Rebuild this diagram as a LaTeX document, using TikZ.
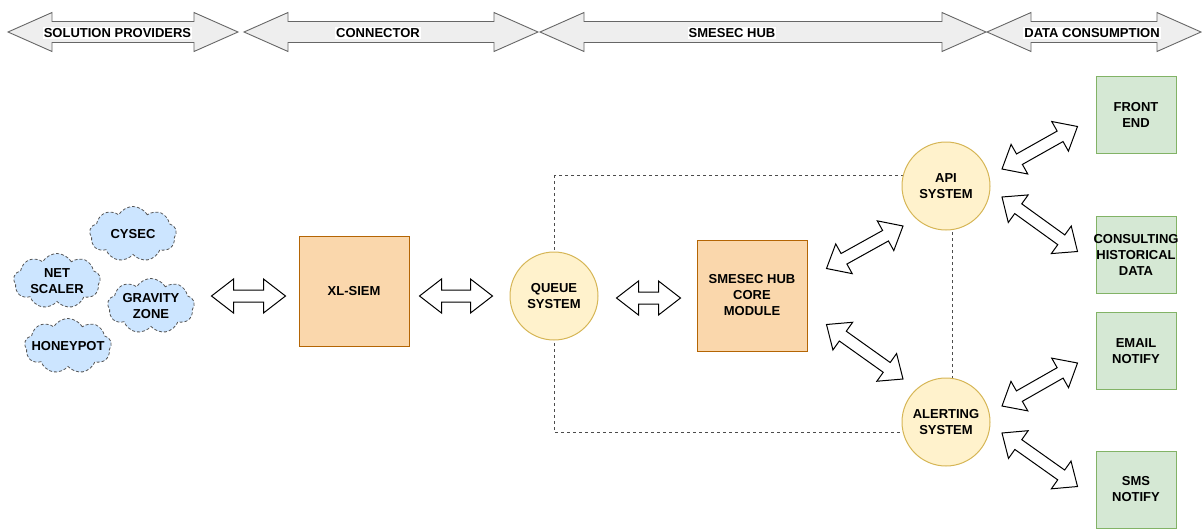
\documentclass[tikz,border=0pt]{standalone}
\usepackage{fontspec}
\setmainfont{Liberation Sans}
\usetikzlibrary{calc,shapes.symbols,backgrounds}

\definecolor{hdrfill}{HTML}{EEEEEE}
\definecolor{hdrline}{HTML}{666666}
\definecolor{cloudfill}{HTML}{CCE5FF}
\definecolor{cloudline}{HTML}{555555}
\definecolor{orangefill}{HTML}{FAD7AC}
\definecolor{orangeline}{HTML}{B46504}
\definecolor{yellowfill}{HTML}{FFF2CC}
\definecolor{yellowline}{HTML}{D6B656}
\definecolor{greenfill}{HTML}{D5E8D4}
\definecolor{greenline}{HTML}{82B366}

% Hollow two-headed block arrow between two coordinates:
% #1 start, #2 end, #3 head length, #4 head half-width, #5 shaft half-width, #6 style
\newcommand\flexarrow[6]{%
  \coordinate (fa-s) at (#1);
  \coordinate (fa-e) at (#2);
  \coordinate (fa-hs) at ($(fa-s)!#3!(fa-e)$);
  \coordinate (fa-he) at ($(fa-e)!#3!(fa-s)$);
  \draw[#6] (fa-s)
    -- ($(fa-hs)!#4!90:(fa-e)$) -- ($(fa-hs)!#5!90:(fa-e)$)
    -- ($(fa-he)!#5!-90:(fa-s)$) -- ($(fa-he)!#4!-90:(fa-s)$)
    -- (fa-e)
    -- ($(fa-he)!#4!90:(fa-s)$) -- ($(fa-he)!#5!90:(fa-s)$)
    -- ($(fa-hs)!#5!-90:(fa-e)$) -- ($(fa-hs)!#4!-90:(fa-e)$)
    -- cycle;
}

\tikzset{
  txt/.style={font=\fontsize{13}{16}\selectfont\bfseries, align=center, text=black, inner sep=0pt},
  cloudy/.style={cloud, cloud puffs=9, cloud puff arc=120, cloud ignores aspect,
    draw=cloudline, fill=cloudfill, dash pattern=on 3pt off 2pt, line width=0.8pt,
    minimum width=87, minimum height=55, inner sep=0pt},
  orangebox/.style={rectangle, draw=orangeline, fill=orangefill, line width=1pt,
    minimum width=110, minimum height=110, txt},
  bubble/.style={circle, draw=yellowline, fill=yellowfill, line width=1pt, minimum size=88, txt},
  greenbox/.style={rectangle, draw=greenline, fill=greenfill, line width=1pt,
    minimum width=80, minimum height=77, txt},
  hdrarrow/.style={draw=hdrline, fill=hdrfill, line width=0.9pt},
  flowarrow/.style={draw=black, fill=white, line width=1pt},
  dashframe/.style={draw=black!70, dash pattern=on 3pt off 3pt, line width=0.9pt},
  hdrlabel/.style={txt, fill=white, inner sep=1pt}
}

\begin{document}
\begin{tikzpicture}[x=1pt,y=-1pt]
\useasboundingbox (0,0) rectangle (1202,528);

% ---- phase banner ----
\coordinate (h1s) at (8,32);    \coordinate (h1e) at (238,32);
\coordinate (h2s) at (244,32);  \coordinate (h2e) at (538,32);
\coordinate (h3s) at (540,32);  \coordinate (h3e) at (986,32);
\coordinate (h4s) at (987,32);  \coordinate (h4e) at (1201,32);
\flexarrow{h1s}{h1e}{44pt}{19.5pt}{10.5pt}{hdrarrow}
\flexarrow{h2s}{h2e}{44pt}{19.5pt}{10.5pt}{hdrarrow}
\flexarrow{h3s}{h3e}{44pt}{19.5pt}{10.5pt}{hdrarrow}
\flexarrow{h4s}{h4e}{44pt}{19.5pt}{10.5pt}{hdrarrow}
\node[hdrlabel] (lbl1) at (117.5,33) {SOLUTION PROVIDERS};
\node[hdrlabel] (lbl2) at (378,33) {CONNECTOR};
\node[hdrlabel] (lbl3) at (732,33) {SMESEC HUB};
\node[hdrlabel] (lbl4) at (1092,33) {DATA CONSUMPTION};

% ---- solution providers ----
\node[cloudy, label={[txt]center:CYSEC}] (cysec) at (133,234) {};
\node[cloudy, label={[txt]center:{NET\\SCALER}}] (netscaler) at (57,281) {};
\node[cloudy, label={[txt]center:{GRAVITY\\ZONE}}] (gravity) at (151,306) {};
\node[cloudy, label={[txt]center:HONEYPOT}] (honeypot) at (68,346) {};

% ---- connector and hub ----
\node[orangebox] (xlsiem) at (354,291) {XL-SIEM};
\node[bubble] (queue) at (554,296) {QUEUE\\SYSTEM};
\node[orangebox, minimum height=111] (core) at (752,295.5) {SMESEC HUB\\CORE\\MODULE};
\node[bubble] (api) at (946,186) {API\\SYSTEM};
\node[bubble] (alert) at (946,422) {ALERTING\\SYSTEM};

% ---- data consumers ----
\node[greenbox] (front) at (1136,114.5) {FRONT\\END};
\node[greenbox, label={[txt]center:{CONSULTING\\HISTORICAL\\DATA}}] (consult) at (1136,254.5) {};
\node[greenbox] (email) at (1136,351) {EMAIL\\NOTIFY};
\node[greenbox] (sms) at (1136,489.5) {SMS\\NOTIFY};

% ---- dashed grouping frame behind the hub services ----
\begin{scope}[on background layer]
  \draw[dashframe] ($(queue.center)+(0,-121)$) rectangle ($(alert.center)+(6,10)$);
\end{scope}

% ---- data flow arrows ----
\coordinate (a1s) at ($(xlsiem.west |- queue.center)+(-87,0)$);
\coordinate (a1e) at ($(xlsiem.west |- queue.center)+(-13,0)$);
\flexarrow{a1s}{a1e}{22pt}{17pt}{6pt}{flowarrow}

\coordinate (a2s) at ($(xlsiem.east |- queue.center)+(10,0)$);
\coordinate (a2e) at ($(queue.west)+(-17,0)$);
\flexarrow{a2s}{a2e}{22pt}{17pt}{6pt}{flowarrow}

\coordinate (a3s) at ($(queue.east)+(18,2)$);
\coordinate (a3e) at ($(core.west |- queue.center)+(-16,2)$);
\flexarrow{a3s}{a3e}{22pt}{17pt}{6pt}{flowarrow}

\coordinate (d1s) at ($(core.east)+(19,-27)$);
\coordinate (d1e) at ($(api.center)+(-43,40)$);
\flexarrow{d1s}{d1e}{20pt}{17pt}{6pt}{flowarrow}

\coordinate (d2s) at ($(core.east)+(19,29)$);
\coordinate (d2e) at ($(alert.center)+(-43,-43)$);
\flexarrow{d2s}{d2e}{20pt}{17pt}{6pt}{flowarrow}

\coordinate (d3s) at ($(api.center)+(56,-17)$);
\coordinate (d3e) at ($(front.west)+(-18,12)$);
\flexarrow{d3s}{d3e}{20pt}{17pt}{6pt}{flowarrow}

\coordinate (d4s) at ($(api.center)+(56,11)$);
\coordinate (d4e) at ($(consult.west)+(-18,-3)$);
\flexarrow{d4s}{d4e}{20pt}{17pt}{6pt}{flowarrow}

\coordinate (d5s) at ($(alert.center)+(56,-16)$);
\coordinate (d5e) at ($(email.west)+(-18,12)$);
\flexarrow{d5s}{d5e}{20pt}{17pt}{6pt}{flowarrow}

\coordinate (d6s) at ($(alert.center)+(56,11)$);
\coordinate (d6e) at ($(sms.west)+(-18,-3)$);
\flexarrow{d6s}{d6e}{20pt}{17pt}{6pt}{flowarrow}

\end{tikzpicture}
\end{document}
